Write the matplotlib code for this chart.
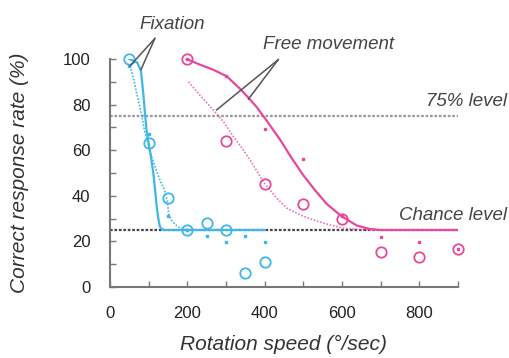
import numpy as np
import matplotlib
matplotlib.use('Agg')
import matplotlib.pyplot as plt

plt.rcParams['font.family'] = ['Liberation Sans', 'DejaVu Sans']

# open circles and small dots per condition
fix_x = [50, 100, 150, 200, 250, 300, 350, 400]
fix_circ = [100, 63, 39, 25, 28, 25, 6, 11]
fix_dot = [97, 67, 31, 25, 22.5, 19.6, 22.5, 19.6]

free_x = [200, 300, 400, 500, 600, 700, 800, 900]
free_circ = [100, 64, 45, 36.5, 30, 15.5, 13.3, 16.5]
free_dot = [100, 92.7, 69.3, 56.2, 31, 21.8, 19.6, 16.5]

# fitted curves
fix_solid_x = [50, 70, 80, 86, 90, 95, 100, 106, 112, 117, 121, 125, 129, 134, 140, 400]
fix_solid_y = [100, 98.5, 95, 85, 77, 68, 63, 57, 50, 42, 35, 30, 26.5, 25.3, 25, 25]
fix_dotted_x = [52, 60, 69, 76, 82, 90, 100, 108, 118, 129, 140, 148, 152, 158, 168, 180, 195, 210]
fix_dotted_y = [97, 92, 85, 80, 75, 68, 62, 57, 52, 47, 43, 38, 32, 29.5, 27.5, 26, 25.3, 25]

free_solid_x = [198, 233, 267, 302, 336, 358, 379, 405, 440, 470, 500, 530, 560, 599, 638, 670, 698, 900]
free_solid_y = [100, 97.5, 95.3, 92.4, 87, 83, 79, 73, 64.6, 56.5, 49, 42.5, 36.5, 31, 27, 25.5, 25, 25]
free_dotted_x = [203, 233, 267, 293, 319, 341, 362, 397, 431, 457, 500, 552, 603, 672, 700]
free_dotted_y = [90, 84, 77.7, 72.6, 66, 61, 55.8, 46, 39, 34.6, 31, 28, 25.8, 24.9, 25]

chance = 25
level75 = 75

blue = '#3fb6ea'
pink = '#e9479a'

fig = plt.figure(figsize=(5.09, 3.58), dpi=100)
ax = fig.add_axes([110/509, 71/358, 348/509, 228/358])

ax.plot([0, 900], [level75, level75], color='#9a9a9a', lw=1.6, ls=(0, (1.2, 0.8)), zorder=1)
ax.plot([0, 900], [chance, chance], color='#444444', lw=1.6, ls=(0, (1.2, 0.8)), zorder=1)

ax.plot(fix_solid_x, fix_solid_y, color=blue, lw=1.6, zorder=3)
ax.plot(fix_dotted_x, fix_dotted_y, color=blue, lw=1.2, ls=(0, (1, 1)), zorder=3)
ax.plot(free_solid_x, free_solid_y, color=pink, lw=1.6, zorder=3)
ax.plot(free_dotted_x, free_dotted_y, color=pink, lw=1.2, ls=(0, (1, 1)), alpha=0.75, zorder=3)

ax.plot(fix_x, fix_circ, 'o', ms=7.5, mfc='none', mec=blue, mew=1.3, clip_on=False, zorder=4)
ax.plot(fix_x, fix_dot, 's', ms=1.6, color=blue, clip_on=False, zorder=4)
ax.plot(free_x, free_circ, 'o', ms=7.5, mfc='none', mec=pink, mew=1.3, clip_on=False, zorder=4)
ax.plot(free_x, free_dot, 's', ms=1.6, color=pink, clip_on=False, zorder=4)

# annotation pointers
ax.plot([116, 52], [109, 97], color='#555555', lw=1.1, clip_on=False, zorder=5)
ax.plot([116, 80], [109, 95.3], color='#555555', lw=1.1, clip_on=False, zorder=5)
ax.plot([435, 276], [99.7, 77.7], color='#555555', lw=1.1, clip_on=False, zorder=5)
ax.plot([435, 358], [99.7, 82.4], color='#555555', lw=1.1, clip_on=False, zorder=5)

ax.text(160, 115, 'Fixation', style='italic', fontsize=13.5, color='#444444',
        ha='center', va='center', clip_on=False)
ax.text(565, 106.5, 'Free movement', style='italic', fontsize=13.5, color='#444444',
        ha='center', va='center', clip_on=False)
ax.text(1027, 81.5, '75% level', style='italic', fontsize=13.5, color='#444444',
        ha='right', va='center', clip_on=False)
ax.text(1027, 31.5, 'Chance level', style='italic', fontsize=13.5, color='#444444',
        ha='right', va='center', clip_on=False)

ax.set_xlim(0, 900)
ax.set_ylim(0, 100)
ax.set_xticks(range(0, 901, 100))
ax.set_xticklabels([str(v) if v % 200 == 0 and v < 900 else '' for v in range(0, 901, 100)])
ax.set_yticks(range(0, 101, 10))
ax.set_yticklabels([str(v) if v % 20 == 0 else '' for v in range(0, 101, 10)])
ax.tick_params(direction='in', length=4, width=1, color='#777777', labelsize=12, pad=14,
               labelcolor='#222222')

for s in ['top', 'right']:
    ax.spines[s].set_visible(False)
for s in ['left', 'bottom']:
    ax.spines[s].set_color('#777777')
    ax.spines[s].set_linewidth(1.5)

ax.set_xlabel('Rotation speed (\u00b0/sec)', style='italic', fontsize=15, color='#333333', labelpad=10)
ax.set_ylabel('Correct response rate (%)', style='italic', fontsize=15, color='#333333', labelpad=24)

fig.savefig('out.png', dpi=100)
